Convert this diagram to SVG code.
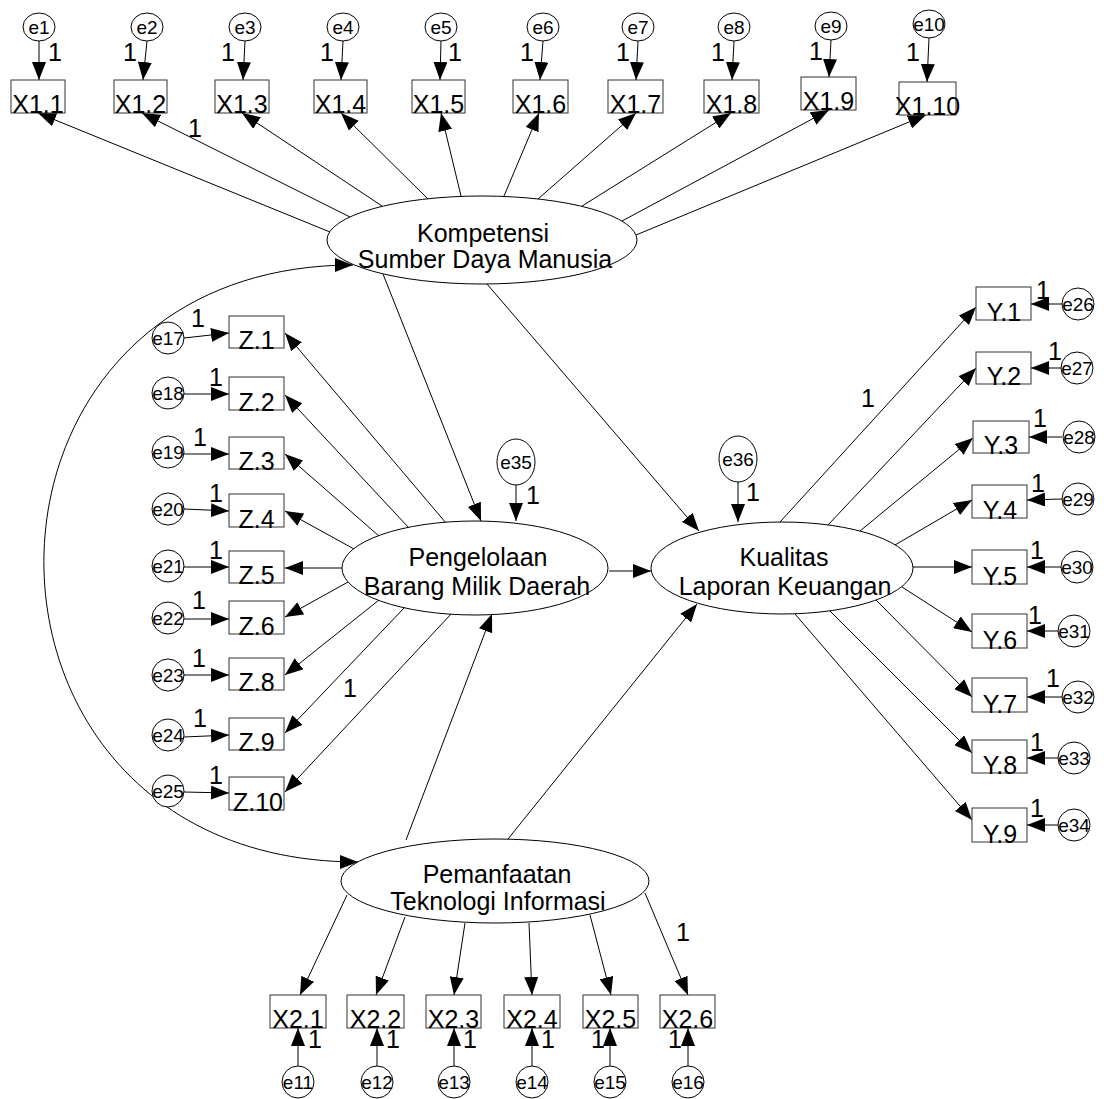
<svg xmlns="http://www.w3.org/2000/svg" width="1104" height="1099" viewBox="0 0 1104 1099">
<style>
.box{fill:#fff;stroke:#333;stroke-width:1}
.lat{fill:#fff;stroke:#000;stroke-width:1}
.err{fill:#fff;stroke:#000;stroke-width:1}
text{font-family:"Liberation Sans",Arial,sans-serif;fill:#000}
.t{font-size:25px;text-anchor:middle}
.et{font-size:19px;text-anchor:middle}
.one{font-size:25px;text-anchor:middle}
.c line,.c path{stroke:#000;stroke-width:1;fill:none;marker-end:url(#a)}
</style>
<defs>
<marker id="a" markerWidth="18" markerHeight="14" refX="18" refY="7" orient="auto" markerUnits="userSpaceOnUse"><path d="M0,0 L18,7 L0,14 z" fill="#000"/></marker>
<marker id="s" markerWidth="18" markerHeight="14" refX="18" refY="7" orient="auto-start-reverse" markerUnits="userSpaceOnUse"><path d="M0,0 L18,7 L0,14 z" fill="#000"/></marker>
</defs>
<rect width="1104" height="1099" fill="#fff"/>
<g id="connectors" class="c">
<!-- error -> X1 -->
<line x1="39" y1="41" x2="39" y2="80"/>
<line x1="147" y1="41" x2="143" y2="80"/>
<line x1="245" y1="41" x2="243" y2="80"/>
<line x1="343" y1="41" x2="341" y2="80"/>
<line x1="441" y1="41" x2="440" y2="80"/>
<line x1="543" y1="41" x2="540" y2="80"/>
<line x1="638" y1="41" x2="636" y2="80"/>
<line x1="734" y1="41" x2="732" y2="80"/>
<line x1="831" y1="40" x2="829" y2="77"/>
<line x1="929" y1="38" x2="927" y2="82"/>
<!-- Kompetensi -> X1 -->
<line x1="330" y1="232" x2="38" y2="113"/>
<line x1="350" y1="217" x2="142" y2="113"/>
<line x1="382" y1="206" x2="242" y2="113"/>
<line x1="428" y1="199" x2="341" y2="113"/>
<line x1="461" y1="196" x2="441" y2="113"/>
<line x1="504" y1="196" x2="539" y2="113"/>
<line x1="538" y1="199" x2="636" y2="113"/>
<line x1="582" y1="206" x2="731" y2="113"/>
<line x1="622" y1="221" x2="829" y2="110"/>
<line x1="636" y1="235" x2="926" y2="115"/>
<!-- Kompetensi -> latent -->
<line x1="383" y1="274" x2="481" y2="521"/>
<line x1="487" y1="284" x2="699" y2="531"/>
<!-- covariance -->
<path d="M353,265 C-60,265 -60,862 358,862" style="marker-start:url(#s)"/>
<!-- error -> Z -->
<line x1="184" y1="338" x2="229" y2="333"/>
<line x1="184" y1="394" x2="229" y2="394"/>
<line x1="184" y1="454" x2="229" y2="454"/>
<line x1="184" y1="509" x2="229" y2="511"/>
<line x1="184" y1="567" x2="229" y2="567"/>
<line x1="184" y1="619" x2="229" y2="619"/>
<line x1="184" y1="675" x2="229" y2="675"/>
<line x1="184" y1="737" x2="229" y2="735"/>
<line x1="184" y1="792" x2="229" y2="793"/>
<!-- Pengelolaan -> Z -->
<line x1="446" y1="523" x2="285" y2="333"/>
<line x1="409" y1="528" x2="285" y2="395"/>
<line x1="379" y1="536" x2="285" y2="454"/>
<line x1="354" y1="549" x2="285" y2="511"/>
<line x1="342" y1="568" x2="285" y2="568"/>
<line x1="348" y1="582" x2="285" y2="617"/>
<line x1="379" y1="600" x2="285" y2="675"/>
<line x1="405" y1="607" x2="285" y2="733"/>
<line x1="452" y1="613" x2="285" y2="792"/>
<!-- e35, e36 -->
<line x1="516" y1="484" x2="516" y2="521"/>
<line x1="738" y1="481" x2="738" y2="522"/>
<!-- Pengelolaan -> Kualitas -->
<line x1="609" y1="571" x2="651" y2="571"/>
<!-- Kualitas -> Y -->
<line x1="780" y1="522" x2="976" y2="307"/>
<line x1="828" y1="525" x2="976" y2="368"/>
<line x1="860" y1="531" x2="973" y2="438"/>
<line x1="895" y1="545" x2="972" y2="500"/>
<line x1="913" y1="567" x2="972" y2="567"/>
<line x1="902" y1="587" x2="972" y2="632"/>
<line x1="876" y1="600" x2="972" y2="697"/>
<line x1="830" y1="611" x2="972" y2="753"/>
<line x1="795" y1="614" x2="972" y2="820"/>
<!-- error -> Y -->
<line x1="1062" y1="304" x2="1031" y2="304"/>
<line x1="1061" y1="368" x2="1031" y2="368"/>
<line x1="1062" y1="437" x2="1029" y2="437"/>
<line x1="1062" y1="499" x2="1027" y2="500"/>
<line x1="1061" y1="567" x2="1027" y2="567"/>
<line x1="1058" y1="631" x2="1027" y2="631"/>
<line x1="1062" y1="697" x2="1027" y2="697"/>
<line x1="1058" y1="758" x2="1027" y2="758"/>
<line x1="1058" y1="825" x2="1027" y2="825"/>
<!-- Pemanfaatan -> latent -->
<line x1="406" y1="840" x2="492" y2="614"/>
<line x1="508" y1="839" x2="697" y2="604"/>
<!-- Pemanfaatan -> X2 -->
<line x1="347" y1="895" x2="300" y2="995"/>
<line x1="405" y1="917" x2="376" y2="995"/>
<line x1="465" y1="923" x2="454" y2="995"/>
<line x1="529" y1="923" x2="532" y2="995"/>
<line x1="590" y1="915" x2="611" y2="995"/>
<line x1="645" y1="893" x2="688" y2="995"/>
<!-- error -> X2 -->
<line x1="298" y1="1066" x2="298" y2="1028"/>
<line x1="377" y1="1066" x2="377" y2="1028"/>
<line x1="454" y1="1066" x2="454" y2="1028"/>
<line x1="532" y1="1066" x2="532" y2="1028"/>
<line x1="610" y1="1066" x2="610" y2="1028"/>
<line x1="688" y1="1066" x2="688" y2="1028"/>
</g>
<g id="labels-1">
<text class="one" x="55" y="61">1</text>
<text class="one" x="130" y="61">1</text>
<text class="one" x="228" y="61">1</text>
<text class="one" x="327" y="61">1</text>
<text class="one" x="455" y="61">1</text>
<text class="one" x="527" y="61">1</text>
<text class="one" x="623" y="61">1</text>
<text class="one" x="718" y="61">1</text>
<text class="one" x="816" y="60">1</text>
<text class="one" x="913" y="61">1</text>
<text class="one" x="195" y="137">1</text>
<text class="one" x="198" y="327">1</text>
<text class="one" x="216" y="386">1</text>
<text class="one" x="200" y="446">1</text>
<text class="one" x="216" y="502">1</text>
<text class="one" x="216" y="559">1</text>
<text class="one" x="199" y="609">1</text>
<text class="one" x="199" y="667">1</text>
<text class="one" x="200" y="727">1</text>
<text class="one" x="216" y="784">1</text>
<text class="one" x="350" y="697">1</text>
<text class="one" x="533" y="504">1</text>
<text class="one" x="753" y="501">1</text>
<text class="one" x="868" y="407">1</text>
<text class="one" x="1043" y="299">1</text>
<text class="one" x="1055" y="360">1</text>
<text class="one" x="1040" y="427">1</text>
<text class="one" x="1038" y="492">1</text>
<text class="one" x="1037" y="559">1</text>
<text class="one" x="1035" y="624">1</text>
<text class="one" x="1053" y="687">1</text>
<text class="one" x="1037" y="751">1</text>
<text class="one" x="1037" y="817">1</text>
<text class="one" x="683" y="941">1</text>
<text class="one" x="315" y="1048">1</text>
<text class="one" x="393" y="1048">1</text>
<text class="one" x="470" y="1048">1</text>
<text class="one" x="548" y="1048">1</text>
<text class="one" x="598" y="1048">1</text>
<text class="one" x="675" y="1048">1</text>
</g>
<!-- latent variables -->
<g id="kompetensi"><ellipse class="lat" cx="482" cy="240" rx="155" ry="44"/><text class="t" x="483" y="242">Kompetensi</text><text class="t" x="485" y="268">Sumber Daya Manusia</text></g>
<g id="pengelolaan"><ellipse class="lat" cx="475" cy="568" rx="133" ry="47"/><text class="t" x="478" y="566">Pengelolaan</text><text class="t" x="477" y="595">Barang Milik Daerah</text></g>
<g id="kualitas"><ellipse class="lat" cx="782" cy="568" rx="131" ry="46"/><text class="t" x="784" y="566">Kualitas</text><text class="t" x="785" y="595">Laporan Keuangan</text></g>
<g id="pemanfaatan"><ellipse class="lat" cx="495" cy="881" rx="154" ry="42"/><text class="t" x="497" y="883">Pemanfaatan</text><text class="t" x="498" y="910">Teknologi Informasi</text></g>
<!-- X1 indicators -->
<g id="X1.1"><rect class="box" x="11" y="80" width="54" height="33"/><text class="t" x="38" y="113">X1.1</text></g>
<g id="X1.2"><rect class="box" x="114" y="80" width="53" height="33"/><text class="t" x="140.5" y="113">X1.2</text></g>
<g id="X1.3"><rect class="box" x="215" y="80" width="54" height="33"/><text class="t" x="242" y="113">X1.3</text></g>
<g id="X1.4"><rect class="box" x="314" y="80" width="53" height="33"/><text class="t" x="340.5" y="113">X1.4</text></g>
<g id="X1.5"><rect class="box" x="412" y="80" width="53" height="33"/><text class="t" x="438.5" y="113">X1.5</text></g>
<g id="X1.6"><rect class="box" x="513" y="80" width="55" height="33"/><text class="t" x="540.5" y="113">X1.6</text></g>
<g id="X1.7"><rect class="box" x="608" y="80" width="55" height="33"/><text class="t" x="635.5" y="113">X1.7</text></g>
<g id="X1.8"><rect class="box" x="704" y="80" width="55" height="33"/><text class="t" x="731.5" y="113">X1.8</text></g>
<g id="X1.9"><rect class="box" x="801" y="77" width="55" height="33"/><text class="t" x="828.5" y="110">X1.9</text></g>
<g id="X1.10"><rect class="box" x="899" y="82" width="57" height="33"/><text class="t" x="927.5" y="115">X1.10</text></g>
<!-- top errors -->
<g id="e1"><ellipse class="err" cx="39" cy="27" rx="16" ry="14"/><text class="et" x="39" y="34">e1</text></g>
<g id="e2"><ellipse class="err" cx="147" cy="27" rx="16" ry="14"/><text class="et" x="147" y="34">e2</text></g>
<g id="e3"><ellipse class="err" cx="245" cy="27" rx="16" ry="14"/><text class="et" x="245" y="34">e3</text></g>
<g id="e4"><ellipse class="err" cx="343" cy="27" rx="16" ry="14"/><text class="et" x="343" y="34">e4</text></g>
<g id="e5"><ellipse class="err" cx="441" cy="27" rx="16" ry="14"/><text class="et" x="441" y="34">e5</text></g>
<g id="e6"><ellipse class="err" cx="543" cy="27" rx="16" ry="14"/><text class="et" x="543" y="34">e6</text></g>
<g id="e7"><ellipse class="err" cx="638" cy="27" rx="16" ry="14"/><text class="et" x="638" y="34">e7</text></g>
<g id="e8"><ellipse class="err" cx="734" cy="27" rx="16" ry="14"/><text class="et" x="734" y="34">e8</text></g>
<g id="e9"><ellipse class="err" cx="831" cy="26" rx="16" ry="14"/><text class="et" x="831" y="33">e9</text></g>
<g id="e10"><ellipse class="err" cx="929" cy="24" rx="16" ry="14"/><text class="et" x="929" y="31">e10</text></g>
<!-- Z indicators -->
<g id="Z.1"><rect class="box" x="229" y="316" width="55" height="32"/><text class="t" x="256.5" y="349">Z.1</text></g>
<g id="Z.2"><rect class="box" x="229" y="377" width="55" height="33"/><text class="t" x="256.5" y="411">Z.2</text></g>
<g id="Z.3"><rect class="box" x="229" y="437" width="55" height="32"/><text class="t" x="256.5" y="470">Z.3</text></g>
<g id="Z.4"><rect class="box" x="229" y="494" width="55" height="33"/><text class="t" x="256.5" y="528">Z.4</text></g>
<g id="Z.5"><rect class="box" x="229" y="551" width="55" height="32"/><text class="t" x="256.5" y="584">Z.5</text></g>
<g id="Z.6"><rect class="box" x="229" y="601" width="55" height="33"/><text class="t" x="256.5" y="635">Z.6</text></g>
<g id="Z.8"><rect class="box" x="229" y="658" width="55" height="32"/><text class="t" x="256.5" y="691">Z.8</text></g>
<g id="Z.9"><rect class="box" x="229" y="718" width="55" height="32"/><text class="t" x="256.5" y="751">Z.9</text></g>
<g id="Z.10"><rect class="box" x="229" y="777" width="55" height="33"/><text class="t" x="258" y="811">Z.10</text></g>
<!-- Z errors -->
<g id="e17"><circle class="err" cx="168" cy="338" r="16"/><text class="et" x="168" y="345">e17</text></g>
<g id="e18"><circle class="err" cx="168" cy="393" r="16"/><text class="et" x="168" y="400">e18</text></g>
<g id="e19"><circle class="err" cx="168" cy="452" r="16"/><text class="et" x="168" y="459">e19</text></g>
<g id="e20"><circle class="err" cx="168" cy="509" r="16"/><text class="et" x="168" y="516">e20</text></g>
<g id="e21"><circle class="err" cx="168" cy="566" r="16"/><text class="et" x="168" y="573">e21</text></g>
<g id="e22"><circle class="err" cx="168" cy="618" r="16"/><text class="et" x="168" y="625">e22</text></g>
<g id="e23"><circle class="err" cx="168" cy="675" r="16"/><text class="et" x="168" y="682">e23</text></g>
<g id="e24"><circle class="err" cx="168" cy="735" r="16"/><text class="et" x="168" y="742">e24</text></g>
<g id="e25"><circle class="err" cx="168" cy="791" r="16"/><text class="et" x="168" y="798">e25</text></g>
<!-- structural errors -->
<g id="e35"><ellipse class="err" cx="516" cy="462" rx="19" ry="23"/><text class="et" x="516" y="469">e35</text></g>
<g id="e36"><ellipse class="err" cx="738" cy="459" rx="19" ry="23"/><text class="et" x="738" y="466">e36</text></g>
<!-- Y indicators -->
<g id="Y.1"><rect class="box" x="976" y="287" width="55" height="33"/><text class="t" x="1004" y="321">Y.1</text></g>
<g id="Y.2"><rect class="box" x="976" y="352" width="55" height="32"/><text class="t" x="1004" y="385">Y.2</text></g>
<g id="Y.3"><rect class="box" x="973" y="421" width="56" height="32"/><text class="t" x="1001" y="454">Y.3</text></g>
<g id="Y.4"><rect class="box" x="972" y="485" width="55" height="33"/><text class="t" x="1000" y="519">Y.4</text></g>
<g id="Y.5"><rect class="box" x="972" y="550" width="55" height="34"/><text class="t" x="1000" y="585">Y.5</text></g>
<g id="Y.6"><rect class="box" x="972" y="614" width="55" height="34"/><text class="t" x="1000" y="649">Y.6</text></g>
<g id="Y.7"><rect class="box" x="972" y="678" width="55" height="34"/><text class="t" x="1000" y="713">Y.7</text></g>
<g id="Y.8"><rect class="box" x="972" y="740" width="55" height="33"/><text class="t" x="1000" y="774">Y.8</text></g>
<g id="Y.9"><rect class="box" x="972" y="808" width="55" height="34"/><text class="t" x="1000" y="843">Y.9</text></g>
<!-- Y errors -->
<g id="e26"><circle class="err" cx="1078" cy="304" r="16"/><text class="et" x="1078" y="311">e26</text></g>
<g id="e27"><circle class="err" cx="1077" cy="368" r="16"/><text class="et" x="1077" y="375">e27</text></g>
<g id="e28"><circle class="err" cx="1079" cy="437" r="16"/><text class="et" x="1079" y="444">e28</text></g>
<g id="e29"><circle class="err" cx="1078" cy="499" r="16"/><text class="et" x="1078" y="506">e29</text></g>
<g id="e30"><circle class="err" cx="1077" cy="567" r="16"/><text class="et" x="1077" y="574">e30</text></g>
<g id="e31"><circle class="err" cx="1074" cy="631" r="16"/><text class="et" x="1074" y="638">e31</text></g>
<g id="e32"><circle class="err" cx="1078" cy="697" r="16"/><text class="et" x="1078" y="704">e32</text></g>
<g id="e33"><circle class="err" cx="1074" cy="758" r="16"/><text class="et" x="1074" y="765">e33</text></g>
<g id="e34"><circle class="err" cx="1074" cy="825" r="16"/><text class="et" x="1074" y="832">e34</text></g>
<!-- X2 indicators -->
<g id="X2.1"><rect class="box" x="270" y="995" width="56" height="33"/><text class="t" x="298" y="1028">X2.1</text></g>
<g id="X2.2"><rect class="box" x="347" y="995" width="57" height="33"/><text class="t" x="375.5" y="1028">X2.2</text></g>
<g id="X2.3"><rect class="box" x="426" y="995" width="55" height="33"/><text class="t" x="453.5" y="1028">X2.3</text></g>
<g id="X2.4"><rect class="box" x="504" y="995" width="56" height="33"/><text class="t" x="532" y="1028">X2.4</text></g>
<g id="X2.5"><rect class="box" x="583" y="995" width="55" height="33"/><text class="t" x="610.5" y="1028">X2.5</text></g>
<g id="X2.6"><rect class="box" x="660" y="995" width="55" height="33"/><text class="t" x="687.5" y="1028">X2.6</text></g>
<!-- X2 errors -->
<g id="e11"><circle class="err" cx="298" cy="1082" r="16"/><text class="et" x="298" y="1089">e11</text></g>
<g id="e12"><circle class="err" cx="377" cy="1082" r="16"/><text class="et" x="377" y="1089">e12</text></g>
<g id="e13"><circle class="err" cx="454" cy="1082" r="16"/><text class="et" x="454" y="1089">e13</text></g>
<g id="e14"><circle class="err" cx="532" cy="1082" r="16"/><text class="et" x="532" y="1089">e14</text></g>
<g id="e15"><circle class="err" cx="610" cy="1082" r="16"/><text class="et" x="610" y="1089">e15</text></g>
<g id="e16"><circle class="err" cx="688" cy="1082" r="16"/><text class="et" x="688" y="1089">e16</text></g>
</svg>
